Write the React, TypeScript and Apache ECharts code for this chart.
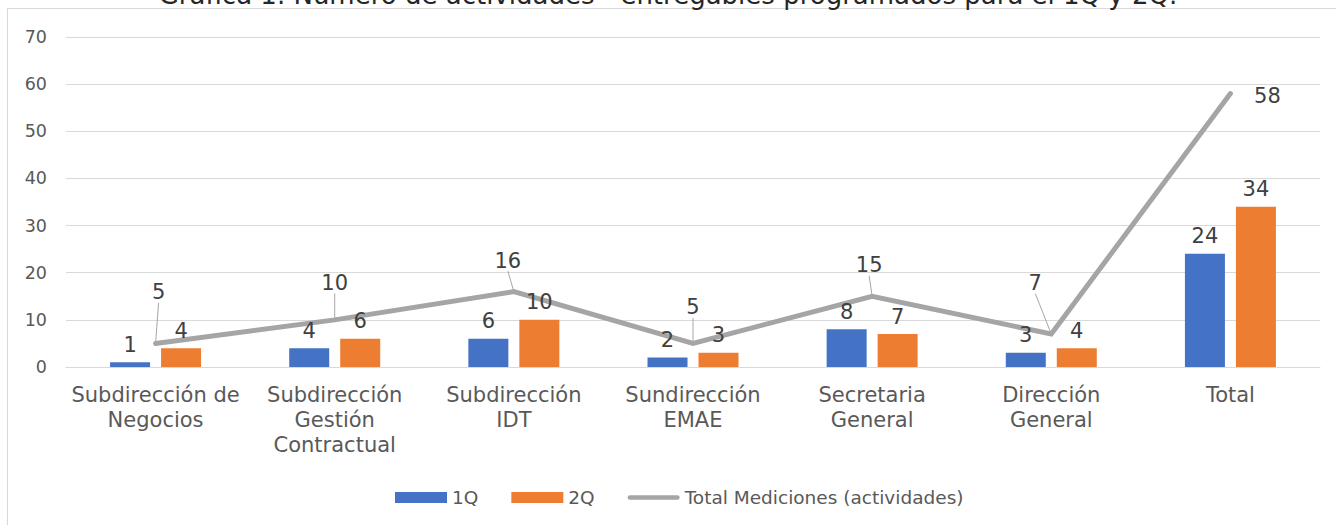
import React, { useEffect, useRef } from "react";
import * as echarts from "echarts";

const titleText = "Gráfica 1. Número de actividades - entregables programados para el 1Q y 2Q.";
const categories = [
  "Subdirección de\nNegocios",
  "Subdirección\nGestión\nContractual",
  "Subdirección\nIDT",
  "Sundirección\nEMAE",
  "Secretaria\nGeneral",
  "Dirección\nGeneral",
  "Total",
];
const q1Values = [1, 4, 6, 2, 8, 3, 24];
const q2Values = [4, 6, 10, 3, 7, 4, 34];
const totalValues = [5, 10, 16, 5, 15, 7, 58];
const seriesNames = ["1Q", "2Q", "Total Mediciones (actividades)"];

// label placement offsets (layout, not data)
const lineLabelOffsets: [number, number][] = [
  [3, -51],
  [0, -37],
  [-6, -31],
  [0, -36],
  [-3, -31],
  [-16, -51],
  [37, 2],
];

const FONT = '"DejaVu Sans", Verdana, sans-serif';

export default function App() {
  const ref = useRef<HTMLDivElement>(null);
  useEffect(() => {
    if (!ref.current) return;
    const chart = echarts.init(ref.current, undefined, { renderer: "svg" });
    const barLabel = {
      show: true,
      position: "top",
      distance: 7,
      fontSize: 21,
      color: "#404040",
      fontFamily: FONT,
    };
    const option: any = {
      animation: false,
      textStyle: { fontFamily: FONT },
      grid: { left: 66, right: 16, top: 37, bottom: 158, containLabel: false },
      graphic: [
        {
          type: "rect",
          silent: true,
          z: -10,
          shape: { x: 7.5, y: 8.5, width: 1400, height: 600 },
          style: { fill: "none", stroke: "#D9D9D9", lineWidth: 1 },
        },
        {
          type: "text",
          silent: true,
          x: 668,
          y: -5,
          style: {
            text: titleText,
            fontSize: 26,
            fontFamily: FONT,
            fill: "#262626",
            align: "center",
            verticalAlign: "middle",
          },
        },
      ],
      legend: {
        left: 390,
        top: 483,
        itemWidth: 52,
        itemHeight: 11,
        itemGap: 33,
        textStyle: { fontSize: 18.5, color: "#595959", fontFamily: FONT },
        data: [
          { name: seriesNames[0], icon: "rect" },
          { name: seriesNames[1], icon: "rect" },
          {
            name: seriesNames[2],
            icon: "path://M2.5,0H53.5A2.5,2.5,0,0,1,53.5,5H2.5A2.5,2.5,0,0,1,2.5,0Z",
          },
        ],
      },
      xAxis: {
        type: "category",
        data: categories,
        axisTick: { show: false },
        axisLine: { lineStyle: { color: "#D9D9D9", width: 1 } },
        axisLabel: {
          interval: 0,
          fontSize: 21,
          lineHeight: 25,
          color: "#595959",
          margin: 15,
          fontFamily: FONT,
        },
      },
      yAxis: {
        type: "value",
        min: 0,
        max: 70,
        interval: 10,
        axisLine: { show: false },
        axisTick: { show: false },
        splitLine: { lineStyle: { color: "#D9D9D9", width: 1 } },
        axisLabel: { fontSize: 17.5, color: "#595959", margin: 19, fontFamily: FONT },
      },
      series: [
        {
          name: seriesNames[0],
          type: "bar",
          z: 3,
          data: q1Values,
          barWidth: 40,
          barGap: "27.5%",
          itemStyle: { color: "#4472C4" },
          label: barLabel,
        },
        {
          name: seriesNames[1],
          type: "bar",
          z: 3,
          data: q2Values,
          barWidth: 40,
          barGap: "27.5%",
          itemStyle: { color: "#ED7D31" },
          label: barLabel,
        },
        {
          name: seriesNames[2],
          type: "line",
          z: 2,
          data: totalValues.map((v, i) =>
            i === totalValues.length - 1 ? { value: v, labelLine: { show: false } } : v
          ),
          symbol: "circle",
          symbolSize: 2,
          showSymbol: true,
          itemStyle: { color: "#A5A5A5" },
          lineStyle: { color: "#A5A5A5", width: 5, cap: "round", join: "miter" },
          label: {
            show: true,
            position: "top",
            fontSize: 21,
            color: "#404040",
            fontFamily: FONT,
          },
          labelLine: { show: true, lineStyle: { color: "#A6A6A6", width: 1 } },
          labelLayout: (params: any) => {
            const off = lineLabelOffsets[params.dataIndex] || [0, -20];
            const r = params.rect;
            return {
              x: r.x + r.width / 2 + off[0],
              y: r.y + r.height / 2 + off[1],
              align: "center",
              verticalAlign: "middle",
            };
          },
        },
      ],
    };
    chart.setOption(option);
    return () => chart.dispose();
  }, []);
  return (
    <div
      ref={ref}
      style={{ position: "absolute", left: 0, top: 0, width: 1336, height: 525, background: "#fff" }}
    />
  );
}
